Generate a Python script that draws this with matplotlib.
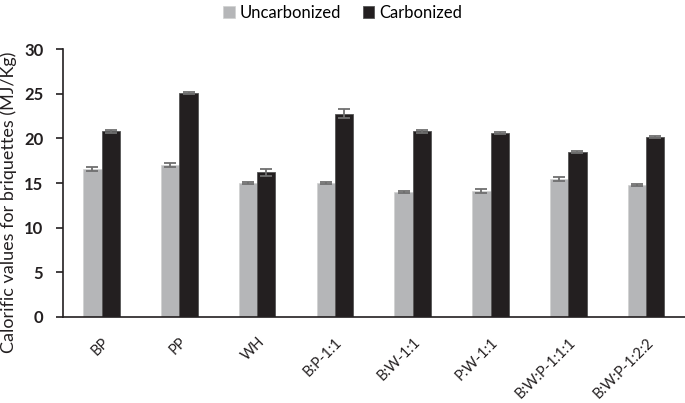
import matplotlib.pyplot as plt
import numpy as np

plt.rcParams['font.family'] = ['Lato', 'DejaVu Sans']

categories = ['BP', 'PP', 'WH', 'B:P-1:1', 'B:W-1:1', 'P:W-1:1', 'B:W:P-1:1:1', 'B:W:P-1:2:2']
uncarbonized = [16.55, 17.0, 14.97, 15.04, 13.96, 14.1, 15.45, 14.78]
uncarbonized_err = [0.25, 0.2, 0.1, 0.1, 0.1, 0.2, 0.2, 0.1]
carbonized = [20.8, 25.1, 16.2, 22.77, 20.8, 20.57, 18.44, 20.16]
carbonized_err = [0.15, 0.15, 0.4, 0.5, 0.15, 0.12, 0.1, 0.1]
yticks = [0, 5, 10, 15, 20, 25, 30]


def main():
    fig = plt.figure(figsize=(6.85, 4.03), dpi=100)
    ax = fig.add_axes([0.0915, 0.2134, 0.9085, 0.6646])

    x = np.arange(len(categories))
    width = 0.235
    err_kw = dict(ecolor='#6f6f6f', elinewidth=1.3, capsize=4, capthick=1.3)

    ax.bar(x - width / 2, uncarbonized, width, yerr=uncarbonized_err, color='#b5b6b8',
           edgecolor='#d0d0d0', linewidth=0.5, label='Uncarbonized', error_kw=err_kw, zorder=2)
    ax.bar(x + width / 2, carbonized, width, yerr=carbonized_err, color='#231f20',
           edgecolor='#555555', linewidth=0.6, label='Carbonized', error_kw=err_kw, zorder=2)

    ax.set_xlim(-0.5, len(categories) - 0.5)
    ax.set_ylim(0, 30)
    ax.set_yticks(yticks)
    ax.set_yticklabels([str(v) for v in yticks], fontsize=12, fontweight='bold', color='#231f20')
    ax.set_xticks(x)
    ax.set_xticklabels(categories, rotation=45, ha='right', rotation_mode='anchor',
                       fontsize=10.5, color='#231f20')
    ax.tick_params(axis='x', length=0, pad=13)
    ax.tick_params(axis='y', length=5, width=1.2, color='#231f20', pad=9)

    for side in ['top', 'right']:
        ax.spines[side].set_visible(False)
    ax.spines['left'].set_linewidth(1.2)
    ax.spines['bottom'].set_linewidth(1.2)
    ax.spines['left'].set_color('#231f20')
    ax.spines['bottom'].set_color('#231f20')

    ax.set_ylabel('Calorific values for briquettes (MJ/Kg)', fontsize=13, color='#231f20')
    ax.yaxis.set_label_coords(-0.074, 0.43)

    fig.legend(*ax.get_legend_handles_labels(), loc='upper center', bbox_to_anchor=(0.5, 1.025),
               ncol=2, frameon=False, fontsize=12, handlelength=0.7, handleheight=0.7,
               handletextpad=0.3, columnspacing=1.3)

    fig.savefig('out.png', dpi=100)


if __name__ == '__main__':
    main()
